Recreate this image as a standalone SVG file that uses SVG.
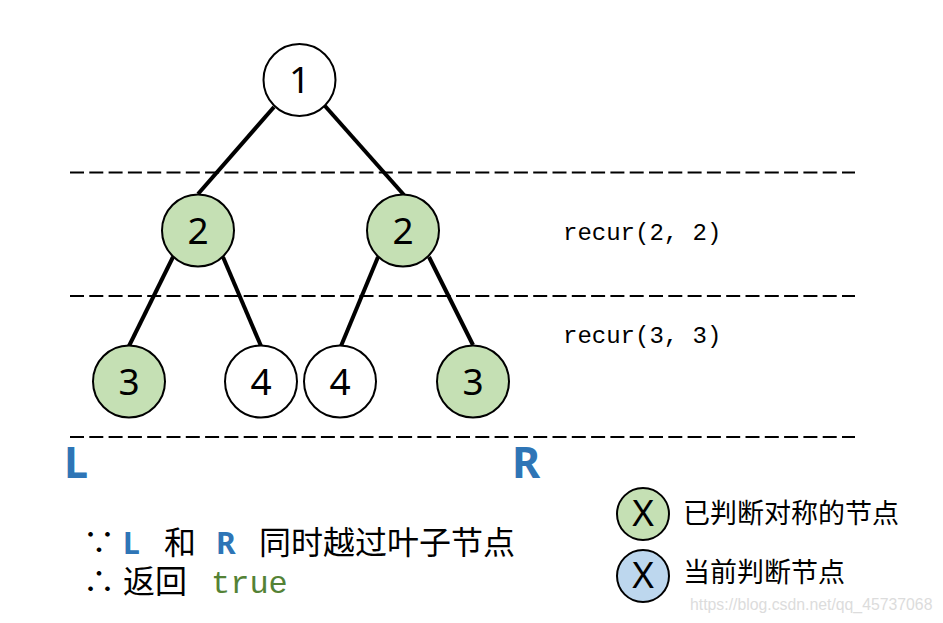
<svg xmlns="http://www.w3.org/2000/svg" width="943" height="623" viewBox="0 0 943 623">
<style>
.node circle{stroke:#000;stroke-width:2}
.w{fill:#fff}
.g{fill:#C5E0B4}
.b{fill:#BDD7EE}
.num{font-family:"Noto Sans","Open Sans",sans-serif;font-size:37px;fill:#000;text-anchor:middle}
.edge{stroke:#000;stroke-width:4;fill:none}
.dash{stroke:#000;stroke-width:2;stroke-dasharray:14 5.3}
.mono{font-family:"Liberation Mono","DejaVu Sans Mono",monospace;font-size:24px;fill:#000}
.big{font-family:"Noto Sans","Open Sans",sans-serif;font-weight:bold;font-size:43px;fill:#2E75B6}
.cn{font-family:"Noto Sans","Noto Sans CJK SC",sans-serif;font-size:32px;fill:#000}
.bl{font-family:"Noto Sans",sans-serif;font-weight:bold;fill:#2E75B6;font-size:30px}
.leg{font-family:"Noto Sans CJK SC",sans-serif;font-size:27px;fill:#000}
</style>
<rect width="943" height="623" fill="#fff"/>
<g id="guides">
<line class="dash" x1="70" y1="172.5" x2="855" y2="172.5"/>
<line class="dash" x1="70" y1="296" x2="855" y2="296"/>
<line class="dash" x1="70" y1="437" x2="855" y2="437"/>
</g>
<g id="connectors">
<line class="edge" x1="274" y1="107" x2="198" y2="194"/>
<line class="edge" x1="325" y1="106" x2="404" y2="195"/>
<line class="edge" x1="173" y1="257" x2="129" y2="346"/>
<line class="edge" x1="223" y1="257" x2="261" y2="346"/>
<line class="edge" x1="378" y1="257" x2="341" y2="346"/>
<line class="edge" x1="429" y1="257" x2="473" y2="345"/>
</g>
<g id="n1" class="node"><circle class="w" cx="299.5" cy="80" r="36"/><text class="num" x="299.5" y="93">1</text></g>
<g id="n2l" class="node"><circle class="g" cx="198" cy="230.5" r="36"/><text class="num" x="198" y="244">2</text></g>
<g id="n2r" class="node"><circle class="g" cx="403" cy="230.5" r="36"/><text class="num" x="403" y="244">2</text></g>
<g id="n3l" class="node"><circle class="g" cx="129" cy="381.5" r="36"/><text class="num" x="129" y="395">3</text></g>
<g id="n4l" class="node"><circle class="w" cx="261" cy="381.5" r="36"/><text class="num" x="261" y="395">4</text></g>
<g id="n4r" class="node"><circle class="w" cx="340" cy="381.5" r="36"/><text class="num" x="340" y="395">4</text></g>
<g id="n3r" class="node"><circle class="g" cx="473" cy="381.5" r="36"/><text class="num" x="473" y="395">3</text></g>
<text class="mono" x="563" y="240" font-size="24.5">recur(2, 2)</text>
<text class="mono" x="563" y="343" font-size="24.5">recur(3, 3)</text>
<text class="big" x="64" y="478">L</text>
<text class="big" x="512" y="478">R</text>
<text class="cn" y="554"><tspan x="83">∵</tspan><tspan class="bl" x="123">L</tspan><tspan x="164">和</tspan><tspan class="bl" x="216">R</tspan><tspan x="259">同时越过叶子节点</tspan></text>
<text class="cn" y="593"><tspan x="83">∴</tspan><tspan x="123">返回</tspan><tspan x="211" font-family="Liberation Mono,monospace" font-size="32" fill="#548235">true</tspan></text>
<g id="leg1" class="node"><circle class="g" cx="643" cy="514" r="26"/><text class="num" x="643" y="526" font-size="32" font-family="Liberation Sans,sans-serif">X</text></g>
<text class="leg" x="683" y="523">已判断对称的节点</text>
<g id="leg2" class="node"><circle class="b" cx="643" cy="576" r="26"/><text class="num" x="643" y="588" font-size="32" font-family="Liberation Sans,sans-serif">X</text></g>
<text class="leg" x="683" y="582">当前判断节点</text>
<text x="690" y="610" font-family="Liberation Sans,Arial,sans-serif" font-size="15.8" fill="#dcdcdc">https://blog.csdn.net/qq_45737068</text>
</svg>
